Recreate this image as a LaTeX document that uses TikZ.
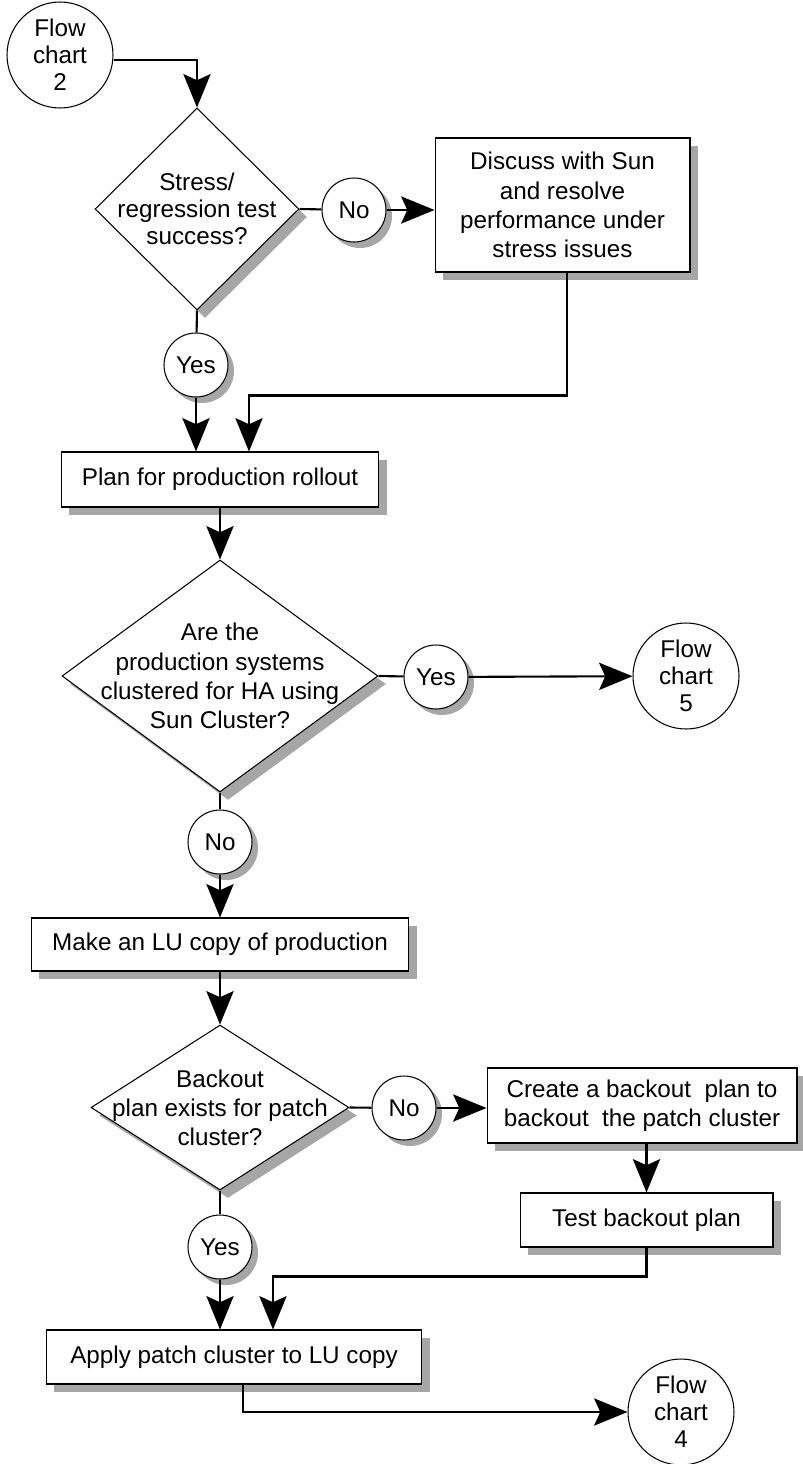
\documentclass[tikz,border=0pt]{standalone}
\usepackage{fontspec}
\setmainfont{Liberation Sans}
\usetikzlibrary{positioning,arrows.meta,shapes.geometric,shadows}

\tikzset{
  shade/.style={drop shadow={shadow xshift=0.16cm,shadow yshift=-0.16cm,fill=black!35,opacity=1}},
  taskbox/.style={draw,rectangle,line width=0.6pt,fill=white,inner sep=0pt,align=center,shade},
  decision/.style={draw,diamond,line width=0.6pt,fill=white,inner sep=0pt,shade},
  answer/.style={draw,circle,line width=0.6pt,fill=white,inner sep=0pt,minimum size=1.28cm,
    drop shadow={shadow xshift=0.12cm,shadow yshift=-0.12cm,fill=black!35,opacity=1}},
  chartref/.style={draw,circle,line width=0.6pt,fill=white,inner sep=0pt,minimum size=2.12cm,
    align=center,font=\fontsize{13.8pt}{15.3pt}\selectfont},
  wire/.style={line width=1.2pt},
  flowarrow/.style={wire,-{Stealth[length=19pt,width=15.5pt,inset=3.5pt]}}
}

\begin{document}
\begin{tikzpicture}[x=0.02cm,y=-0.02cm,font=\fontsize{13.8pt}{16.6pt}\selectfont]
\useasboundingbox (0,0) rectangle (802,1464);
% stress test
\node[chartref] (fc2) at (60,55) {Flow\\chart\\2};
\node[decision,minimum width=4.08cm,minimum height=4.04cm,
  label={[align=center,font=\fontsize{13.8pt}{15.3pt}\selectfont]center:Stress/\\regression test\\success?}] (stress) at (197,209) {};
\node[answer] (no1) at (354,210) {No};
\node[taskbox,minimum width=5.1cm,minimum height=2.68cm] (discuss) at (562.5,205)
  {Discuss with Sun\\and resolve\\performance under\\stress issues};
\node[answer] (yes1) at (196,365) {Yes};
\node[taskbox,minimum width=6.36cm,minimum height=1.1cm] (plan) at (220,479.5) {Plan for production rollout};
% cluster check
\node[decision,minimum width=6.32cm,minimum height=4.64cm,
  label={[align=center]center:Are the\\production systems\\clustered for HA using\\Sun Cluster?}] (ha) at (220,676) {};
\node[answer] (yes2) at (436,677) {Yes};
\node[chartref] (fc5) at (686,676) {Flow\\chart\\5};
\node[answer] (no2) at (220,842) {No};
\node[taskbox,minimum width=7.56cm,minimum height=1.06cm] (lucopy) at (220,944.5) {Make an LU copy of production};
% backout plan
\node[decision,minimum width=5.16cm,minimum height=3.3cm,
  label={[align=center]center:Backout\\plan exists for patch\\cluster?}] (backout) at (220,1107.5) {};
\node[answer] (no3) at (404,1108) {No};
\node[taskbox,minimum width=6.2cm,minimum height=1.5cm] (create) at (642,1105.5)
  {Create a backout\ \ plan to\\backout\ \ the patch cluster};
\node[taskbox,minimum width=5.06cm,minimum height=1.08cm] (test) at (646.5,1220) {Test backout plan};
\node[answer] (yes3) at (220,1247) {Yes};
\node[taskbox,minimum width=7.52cm,minimum height=1.08cm] (apply) at (234,1357) {Apply patch cluster to LU copy};
\node[chartref] (fc4) at (681,1412) {Flow\\chart\\4};
% connectors
\draw[flowarrow] ([yshift=-0.1cm]fc2.east) -| (stress);
\draw[wire] (stress.east) -- (no1);
\draw[flowarrow] (no1.east) -- (no1.east -| discuss.west);
\draw[flowarrow] ([xshift=0.09cm]discuss.south) -- ++(0,123) -| ([xshift=0.58cm]plan.north);
\draw[wire] (stress.south) -- (yes1);
\draw[flowarrow] (yes1.south) -- (yes1.south |- plan.north);
\draw[flowarrow] (plan) -- (ha);
\draw[wire] (ha.east) -- (yes2);
\draw[flowarrow] (yes2) -- (fc5);
\draw[wire] (ha.south) -- (no2);
\draw[flowarrow] (no2) -- (lucopy);
\draw[flowarrow] (lucopy) -- (backout);
\draw[wire] (backout.east) -- (no3);
\draw[flowarrow] (no3.east) -- (no3.east -| create.west);
\draw[flowarrow] (test.north |- create.south) -- (test.north);
\draw[flowarrow] (test.south) -- ++(0,29) -| ([xshift=0.78cm]apply.north);
\draw[wire] (backout.south) -- (yes3);
\draw[flowarrow] (yes3.south) -- (yes3.south |- apply.north);
\draw[flowarrow] ([xshift=0.18cm]apply.south) |- (fc4);
\end{tikzpicture}
\end{document}
